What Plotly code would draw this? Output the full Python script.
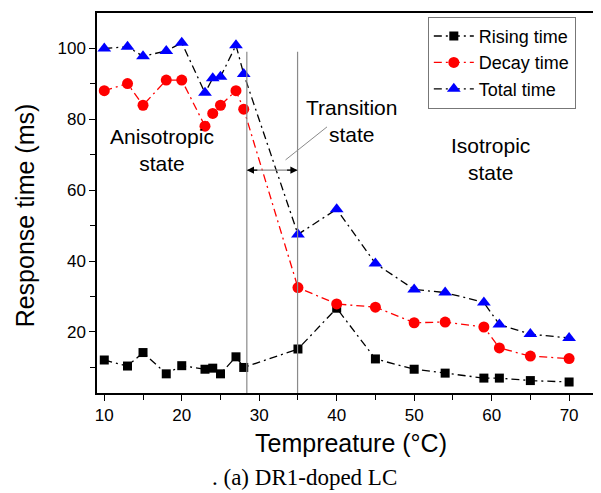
import plotly.graph_objects as go

temp = [10, 13, 15, 18, 20, 23, 24, 25, 27, 28, 35, 40, 45, 50, 54, 59, 61, 65, 70]
rising = [12.1, 10.4, 14.2, 8.2, 10.5, 9.5, 9.8, 8.2, 13.0, 10.0, 15.2, 26.7, 12.4, 9.5, 8.4, 7.0, 7.0, 6.3, 5.9]
decay = [88.0, 90.0, 83.9, 91.0, 91.0, 78.0, 81.6, 83.9, 88.0, 82.8, 32.5, 27.9, 27.0, 22.6, 22.8, 21.4, 15.5, 13.2, 12.5]
total = [99.9, 100.4, 97.7, 99.2, 101.5, 87.4, 91.5, 91.9, 100.8, 92.7, 47.5, 54.6, 39.3, 32.0, 31.1, 28.3, 22.1, 19.4, 18.3]

series_names = ["Rising time", "Decay time", "Total time"]
transition_bounds = [28.4, 34.95]

FONT = "Arial, Liberation Sans, sans-serif"
DASH = "8px,4px,2px,4px"

fig = go.Figure()
fig.add_trace(go.Scatter(x=temp, y=rising, name=series_names[0], mode="lines+markers",
                         line=dict(color="black", width=1.3, dash=DASH),
                         marker=dict(symbol="square", size=9, color="black")))
fig.add_trace(go.Scatter(x=temp, y=decay, name=series_names[1], mode="lines+markers",
                         line=dict(color="red", width=1.3, dash=DASH),
                         marker=dict(symbol="circle", size=11, color="red")))
fig.add_trace(go.Scatter(x=temp, y=total, name=series_names[2], mode="lines+markers",
                         line=dict(color="black", width=1.3, dash=DASH),
                         marker=dict(symbol="triangle-up", size=12, color="blue")))

# transition boundaries
for xb in transition_bounds:
    fig.add_shape(type="line", xref="x", yref="y", x0=xb, x1=xb, y0=2.8, y1=99,
                  line=dict(color="#8a8a8a", width=1.2))

# double-headed arrow
arrow_y = 65.6
fig.add_shape(type="line", xref="x", yref="y", x0=transition_bounds[0], x1=transition_bounds[1],
              y0=arrow_y, y1=arrow_y, line=dict(color="#8a8a8a", width=1.2))
for xb, off in [(transition_bounds[0], 12), (transition_bounds[1], -12)]:
    fig.add_annotation(x=xb, y=arrow_y, xref="x", yref="y", ax=off, ay=0, text="",
                       showarrow=True, arrowhead=2, arrowsize=1.2, arrowwidth=1.2,
                       arrowcolor="black")
# pointer line
fig.add_shape(type="line", xref="x", yref="y", x0=33.4, y0=68.5, x1=38.75, y1=77.8,
              line=dict(color="#8a8a8a", width=1))

label_font = dict(family=FONT, size=21, color="black")
fig.add_annotation(x=17.4, y=71.3, xref="x", yref="y", text="Anisotropic<br>state",
                   showarrow=False, font=label_font)
fig.add_annotation(x=41.97, y=79.4, xref="x", yref="y", text="Transition<br>state",
                   showarrow=False, font=label_font)
fig.add_annotation(x=59.8, y=68.7, xref="x", yref="y", text="Isotropic<br>state",
                   showarrow=False, font=label_font)

# axis titles and caption
fig.add_annotation(x=-0.143, y=0.468, xref="paper", yref="paper", text="Response time (ms)",
                   xanchor="center", yanchor="middle",
                   textangle=-90, showarrow=False, font=dict(family=FONT, size=25, color="black"))
fig.add_annotation(x=0.506, y=-0.131, xref="paper", yref="paper", text="Tempreature (\u00b0C)",
                   xanchor="center", yanchor="middle",
                   showarrow=False, font=dict(family=FONT, size=25, color="black"))
fig.add_annotation(x=0.413, y=-0.222, xref="paper", yref="paper", text=". (a) DR1-doped LC",
                   xanchor="center", yanchor="middle", showarrow=False,
                   font=dict(family="Liberation Serif, Times New Roman, serif", size=23, color="black"))

# page body has an 8px margin: figure is 593x485 so that the plot lands where the reference has it
fig.update_layout(
    width=593, height=485,
    margin=dict(l=89, r=0, t=5, b=100),
    paper_bgcolor="white", plot_bgcolor="white",
    font=dict(family=FONT, size=17, color="black"),
    legend=dict(x=0.659, y=0.99, xanchor="left", yanchor="top",
                bgcolor="white", bordercolor="#777", borderwidth=1,
                font=dict(family=FONT, size=18, color="black"),
                tracegroupgap=0, itemwidth=40),
    showlegend=True,
)
fig.update_xaxes(range=[9.06, 73.86], tick0=10, dtick=10, ticks="outside", ticklen=6,
                 tickwidth=1.2, tickcolor="black", showline=True, linecolor="black",
                 linewidth=1.5, mirror=True, showgrid=False, zeroline=False,
                 minor=dict(ticks="outside", dtick=5, tick0=10, ticklen=5, tickwidth=1.2,
                            tickcolor="black", showgrid=False),
                 tickfont=dict(family=FONT, size=17, color="black"))
fig.update_yaxes(range=[2.8, 109.9], tick0=20, dtick=20, ticks="outside", ticklen=6,
                 tickwidth=1.2, tickcolor="black", showline=True, linecolor="black",
                 linewidth=1.5, mirror=True, showgrid=False, zeroline=False,
                 minor=dict(ticks="outside", dtick=10, tick0=10, ticklen=5, tickwidth=1.2,
                            tickcolor="black", showgrid=False),
                 tickfont=dict(family=FONT, size=17, color="black"))

fig.write_html("out.html")
